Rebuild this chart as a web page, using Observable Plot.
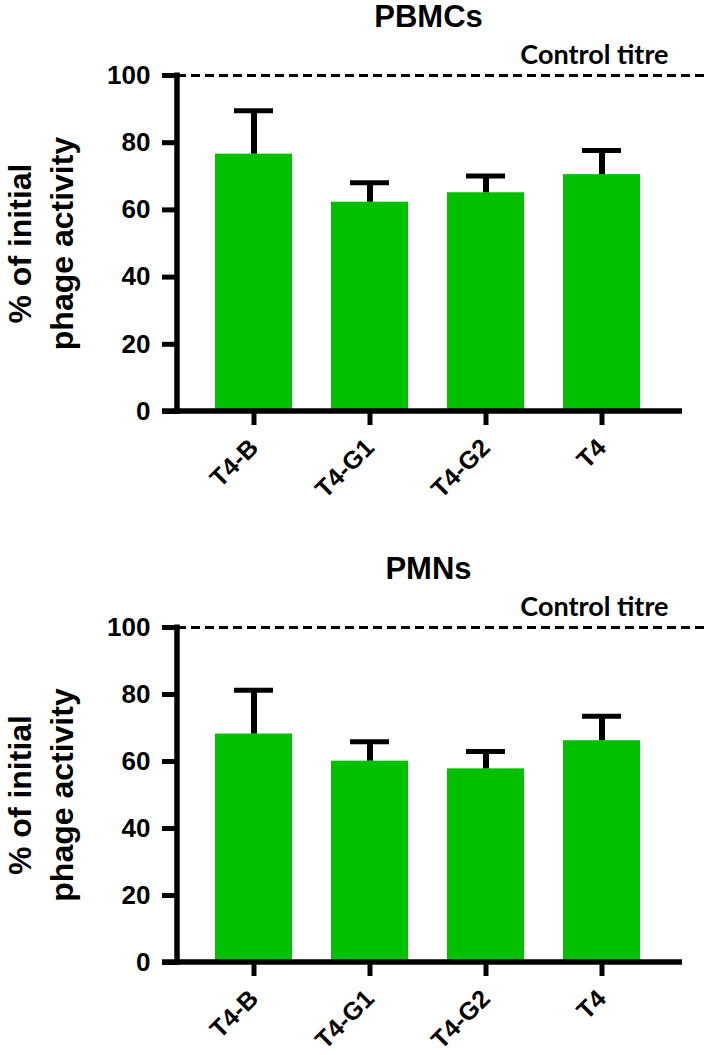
<!DOCTYPE html>
<html><head><meta charset="utf-8">
<script src="https://cdn.jsdelivr.net/npm/d3@7"></script>
<script src="https://cdn.jsdelivr.net/npm/@observablehq/plot@0.6"></script>
<style>body{margin:0;background:#fff;} #chart svg{display:block;}</style>
</head><body><div id="chart"></div>
<script>
const categories = ["T4-B", "T4-G1", "T4-G2", "T4"];
const pbmcMean = [76.6, 62.3, 65.1, 70.5];
const pbmcSD = [12.9, 5.8, 5.0, 7.2];
const pmnMean = [68.2, 60.1, 57.8, 66.2];
const pmnSD = [13.1, 5.8, 5.2, 7.3];
const yTicks = [0, 20, 40, 60, 80, 100];
const controlTitre = 100;
const panelTitles = ["PBMCs", "PMNs"];
const yLabel = "% of initial\nphage activity";
const controlLabel = "Control titre";

const xRange = [177, 682];
const barColor = "#00c000";
const bold = "Liberation Sans, Arial, sans-serif";

function axisLines(index, scales, values, dims) {
  const g = d3.create("svg:g").attr("stroke", "black").attr("stroke-width", 5.5);
  const y0 = scales.y(0), y100 = scales.y(100);
  g.append("line").attr("x1", dims.marginLeft).attr("x2", dims.marginLeft)
    .attr("y1", y100 - 2.5).attr("y2", y0 + 2.75);
  g.append("line").attr("x1", dims.marginLeft - 15).attr("x2", xRange[1])
    .attr("y1", y0).attr("y2", y0);
  return g.node();
}

function panel(title, means, sds, height, marginBottom) {
  const data = categories.map((name, i) => ({name, mean: means[i], sd: sds[i]}));
  return Plot.plot({
    width: 709, height, marginTop: 75, marginLeft: 177, marginRight: 4, marginBottom,
    style: {background: "white", color: "black", overflow: "visible"},
    x: {domain: categories, range: xRange, paddingInner: 0.338, paddingOuter: 0.34, align: 0.47},
    y: {domain: [0, 100]},
    marks: [
      Plot.barY(data, {x: "name", y: "mean", fill: barColor}),
      Plot.ruleX(data, {x: "name", y1: "mean", y2: d => d.mean + d.sd, strokeWidth: 6}),
      Plot.tickY(data, {x: "name", y: d => d.mean + d.sd, strokeWidth: 5, insetLeft: 19, insetRight: 19}),
      Plot.ruleY([controlTitre], {strokeWidth: 3, strokeDasharray: "9,5"}),
      axisLines,
      Plot.axisY({ticks: yTicks, tickSize: 15, tickPadding: 12, strokeWidth: 5, fontSize: 26, fontWeight: "bold", fontFamily: bold, label: null}),
      Plot.axisX({tickSize: 14, tickPadding: 18, tickRotate: -45, strokeWidth: 5, fontSize: 25, fontWeight: "bold", fontFamily: bold, label: null}),
      Plot.text([title], {frameAnchor: "top", dx: -13, dy: -49, fontSize: 31, fontWeight: "bold", fontFamily: bold, lineAnchor: "bottom"}),
      Plot.text([controlLabel], {frameAnchor: "top-right", dx: -37, dy: -12, textAnchor: "end", lineAnchor: "bottom", fontSize: 27, fontWeight: "bold", fontFamily: "Lato"}),
      Plot.text([yLabel], {frameAnchor: "left", rotate: -90, dx: -176, lineAnchor: "top", textAnchor: "middle", fontSize: 32, lineHeight: 1.3, fontWeight: "bold", fontFamily: bold})
    ]
  });
}

const chart = document.getElementById("chart");
chart.append(panel(panelTitles[0], pbmcMean, pbmcSD, 552, 141));
chart.append(panel(panelTitles[1], pmnMean, pmnSD, 503, 93));
</script>
</body></html>
